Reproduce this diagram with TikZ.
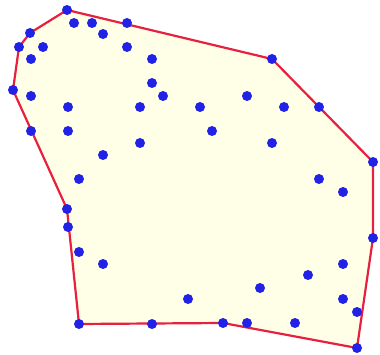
\documentclass[tikz,border=0pt]{standalone}
\begin{document}
\begin{tikzpicture}[x=1pt,y=-1pt,
  dot/.style={circle,fill={rgb,255:red,34;green,34;blue,230},inner sep=0pt,minimum size=10pt},
  hull/.style={draw={rgb,255:red,232;green,32;blue,64},line width=2.2pt,line join=round,fill={rgb,255:red,255;green,255;blue,232}}]
\useasboundingbox (0,0) rectangle (380,355);
\foreach \n/\x/\y in {1/67/10,2/74/23,3/92/23,4/103/34,5/127/23,6/30/33,7/19/47,8/43/47,9/31/59,10/127/47,
 11/152/59,12/13/90,13/31/96,14/152/83,15/163/96,16/68/107,17/140/107,18/31/131,19/68/131,20/140/143,
 21/103/155,22/79/179,23/272/59,24/247/96,25/200/107,26/284/107,27/319/107,28/212/131,29/272/143,30/373/162,
 31/319/179,32/67/209,33/68/227,34/79/252,35/103/264,36/188/299,37/79/324,38/152/324,39/343/192,40/373/238,
 41/343/264,42/308/275,43/260/288,44/343/299,45/357/312,46/223/323,47/247/323,48/295/323,49/357/348}
  \coordinate (p\n) at (\x,\y);
\draw[hull] (p1) -- (p23) -- (p30) -- (p40) -- (p49) -- (p46) -- (p37) -- (p32) -- (p12) -- (p7) -- (p6) -- cycle;
\foreach \n in {1,...,49} \node[dot] (d\n) at (p\n) {};
\end{tikzpicture}
\end{document}
